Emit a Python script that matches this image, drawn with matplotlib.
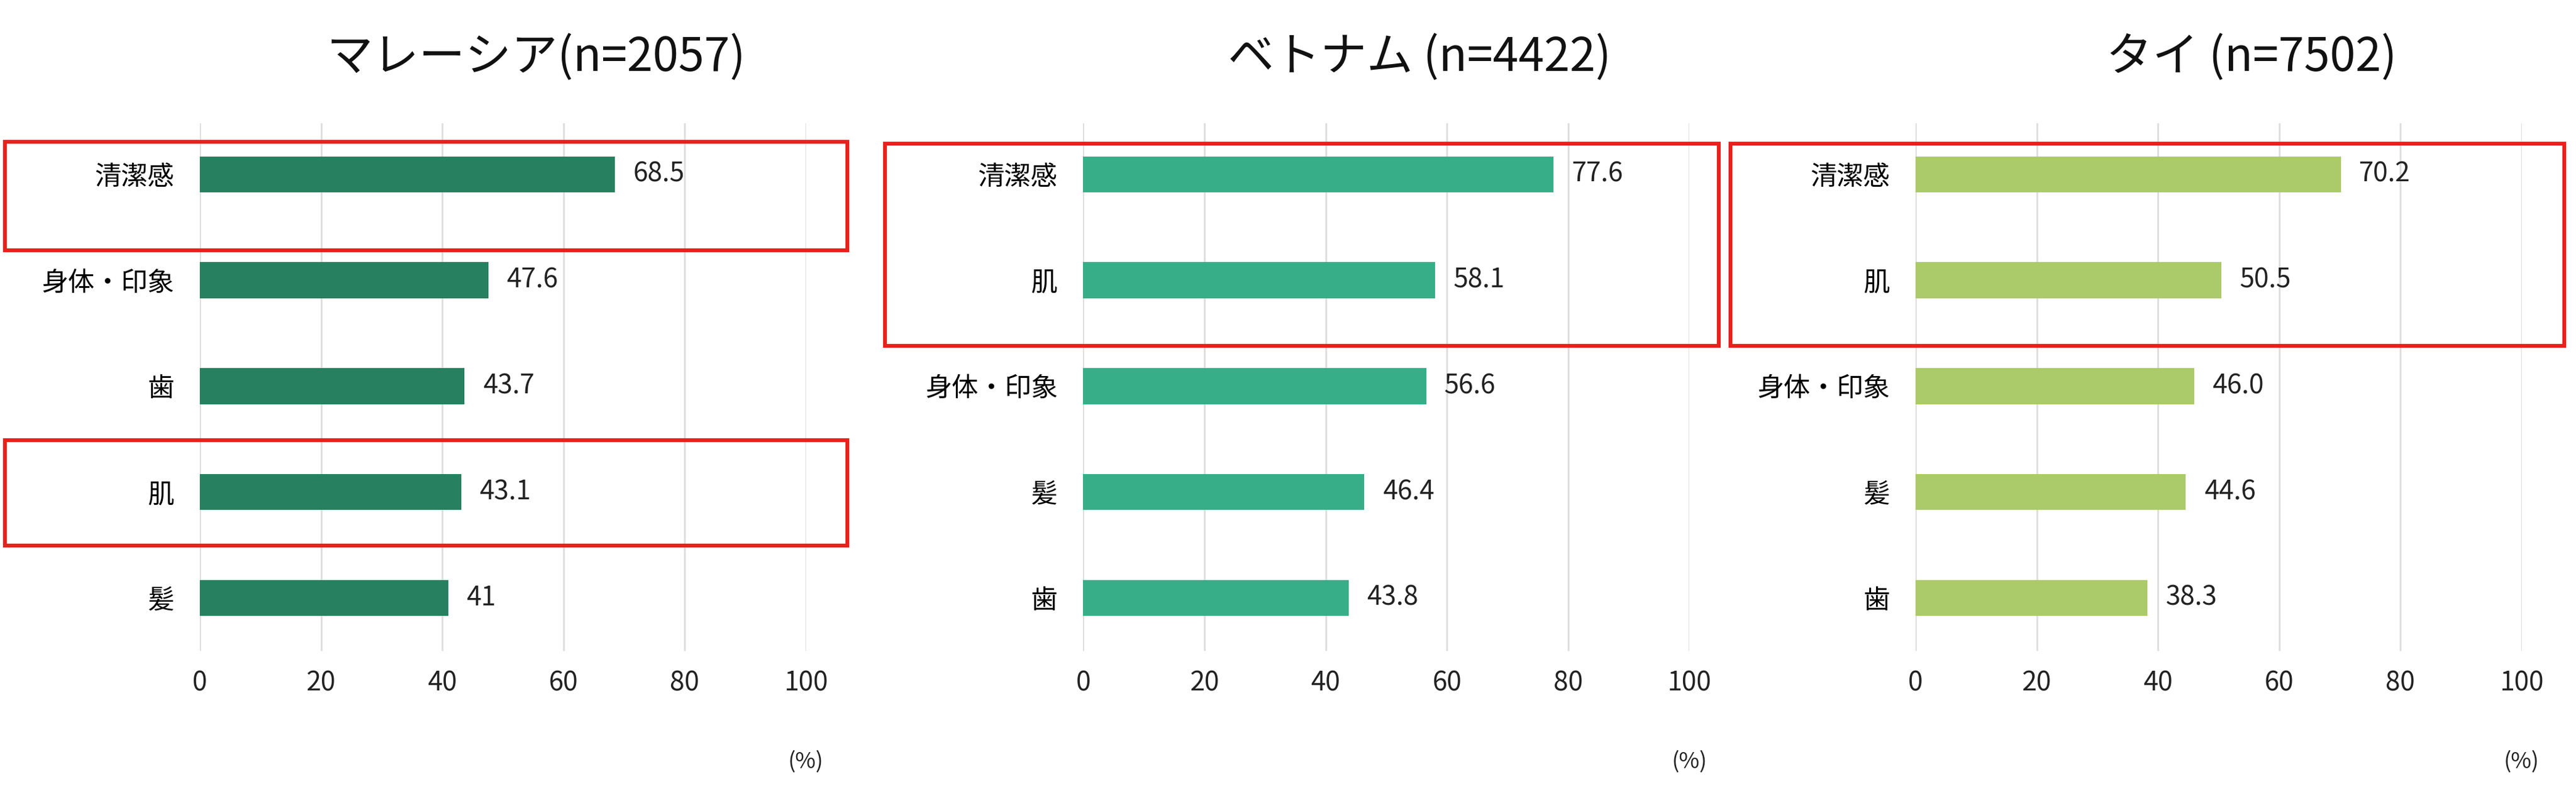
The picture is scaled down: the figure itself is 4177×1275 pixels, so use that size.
import matplotlib
matplotlib.use("Agg")
import matplotlib.pyplot as plt
from matplotlib.patches import Rectangle

plt.rcParams['font.family'] = ['Noto Sans CJK JP', 'DejaVu Sans']

# --- data ---
titles = ['マレーシア(n=2057)', 'ベトナム (n=4422)', 'タイ (n=7502)']
cats_my = ['清潔感', '身体・印象', '歯', '肌', '髪']
vals_my = [68.5, 47.6, 43.7, 43.1, 41]
lbls_my = ['68.5', '47.6', '43.7', '43.1', '41']
cats_vn = ['清潔感', '肌', '身体・印象', '髪', '歯']
vals_vn = [77.6, 58.1, 56.6, 46.4, 43.8]
lbls_vn = ['77.6', '58.1', '56.6', '46.4', '43.8']
cats_th = ['清潔感', '肌', '身体・印象', '髪', '歯']
vals_th = [70.2, 50.5, 46.0, 44.6, 38.3]
lbls_th = ['70.2', '50.5', '46.0', '44.6', '38.3']
colors = ['#27805f', '#38ae88', '#abca6a']
xticks = [0, 20, 40, 60, 80, 100]

W, H = 1560, 477  # reference layout units
fig = plt.figure(figsize=(41.77, 12.75), dpi=100)

panels = [(cats_my, vals_my, lbls_my), (cats_vn, vals_vn, lbls_vn), (cats_th, vals_th, lbls_th)]
x0s = [121, 656, 1160]
for i, (cats, vals, lbls) in enumerate(panels):
    left = x0s[i]
    ax = fig.add_axes([left / W, 1 - 395 / H, 367 / W, 320 / H])
    y = range(len(cats))
    ax.barh(y, vals, height=0.34, color=colors[i], zorder=3)
    for yy, v, t in zip(y, vals, lbls):
        ax.text(v + 3, yy, t, va='center', ha='left', fontsize=31, color='#222222')
    ax.set_xlim(0, 100)
    ax.set_ylim(4.5, -0.48)
    ax.set_yticks(list(y))
    ax.set_yticklabels(cats, fontsize=31)
    ax.set_xticks(xticks)
    ax.set_xticklabels([str(t) for t in xticks], fontsize=31, color='#222222')
    ax.tick_params(length=0, pad=22)
    ax.tick_params(axis='y', pad=30)
    ax.grid(axis='x', color='#dddddd', linewidth=2, zorder=0)
    for s in ax.spines.values():
        s.set_visible(False)
    ax.text(100, 4.5 + 1.05, '(%)', ha='center', va='center', fontsize=26, color='#222222')
    fig.text((left + 367 / 2 + 20) / W, 1 - 35 / H, titles[i], ha='center', va='center',
             fontsize=54, color='#111111')

boxes = [(3, 86, 510, 66), (3, 267, 510, 64), (536, 87, 505, 123), (1048, 87, 505, 123)]
for bx, by, bw, bh in boxes:
    fig.patches.append(Rectangle((bx / W, 1 - (by + bh) / H), bw / W, bh / H,
                                 transform=fig.transFigure, fill=False,
                                 edgecolor='#e8211c', linewidth=4.5))

fig.savefig('out.png', dpi=100, facecolor='white')
